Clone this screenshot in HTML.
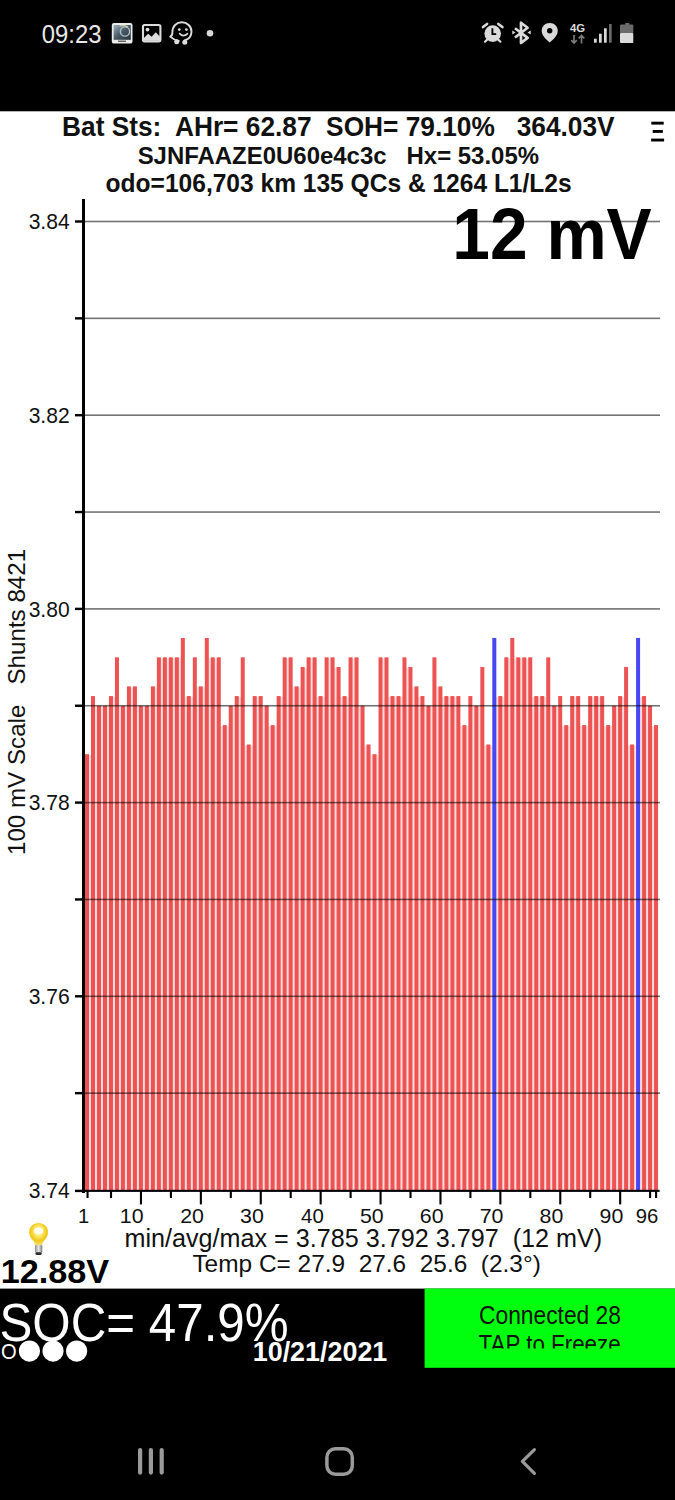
<!DOCTYPE html>
<html><head><meta charset="utf-8"><title>Battery cell voltages</title>
<style>*{margin:0;padding:0}
html,body{width:675px;height:1500px;overflow:hidden;background:#fff}
.pg{position:absolute;left:0;top:0;display:block}</style></head>
<body>
<svg class="pg" width="675" height="1500" viewBox="0 0 675 1500" font-family="Liberation Sans, Arial, sans-serif" xml:space="preserve">
<defs>
<radialGradient id="bg" cx="50%" cy="38%" r="60%"><stop offset="0" stop-color="#fffbe8"/><stop offset="0.3" stop-color="#fff080"/><stop offset="0.7" stop-color="#f2c81a"/><stop offset="1" stop-color="#f6e070"/></radialGradient><linearGradient id="bs" x1="0" x2="1"><stop offset="0" stop-color="#8a8a8a"/><stop offset="0.5" stop-color="#e8e8e8"/><stop offset="1" stop-color="#7a7a7a"/></linearGradient><linearGradient id="th" x1="0" y1="0" x2="1" y2="1"><stop offset="0" stop-color="#9fb0bc"/><stop offset="0.5" stop-color="#4a5866"/><stop offset="1" stop-color="#26303a"/></linearGradient>
<clipPath id="tapclip"><rect x="424" y="1288" width="251" height="60.6"/></clipPath>
</defs>
<rect x="0" y="0" width="675" height="111.3" fill="#000"/>
<text x="41.78" y="42.60" font-size="25.8" fill="#e8e8e8" textLength="59.64" lengthAdjust="spacingAndGlyphs" xml:space="preserve" style="white-space:pre">09:23</text>

 <rect x="111.8" y="22.9" width="20.7" height="20.7" rx="2.2" fill="#e9ece8"/>
 <rect x="113.6" y="25" width="17.2" height="14.8" fill="url(#th)"/>
 <circle cx="125" cy="31.5" r="4.6" fill="none" stroke="#a9c2c8" stroke-width="1.4"/>
 <path d="M119.5 26 Q124 25 128 27" fill="none" stroke="#c8dca0" stroke-width="1.2"/>
 <rect x="118" y="40.6" width="8" height="1.3" fill="#555"/>
 <rect x="143" y="25" width="17.4" height="16.4" rx="1.6" fill="none" stroke="#dcdcdc" stroke-width="2.1"/>
 <circle cx="147.5" cy="29.6" r="1.9" fill="#dcdcdc"/>
 <path d="M143.4 40.8 L143.4 38.5 L148.2 33.8 L151.6 36.8 L155.8 32.2 L160 36.8 L160 40.8 Z" fill="#dcdcdc"/>
 <path d="M170.2 36.6 C172 36 172.5 34.5 172.4 32 C172.4 26.2 176.5 22.3 181.8 22.3 C187.2 22.3 191.5 26.4 191.5 31.6 C191.5 36.2 188.4 39.4 184.6 40.4 M178.8 40.9 C175.8 40.5 173.2 39.3 170.2 36.6" fill="none" stroke="#dcdcdc" stroke-width="1.9" stroke-linecap="round"/>
 <circle cx="176.7" cy="41.8" r="2.5" fill="#dcdcdc"/>
 <circle cx="184.8" cy="42.2" r="2.5" fill="#dcdcdc"/>
 <circle cx="179.3" cy="29.6" r="1.35" fill="#dcdcdc"/>
 <circle cx="186.4" cy="29.6" r="1.35" fill="#dcdcdc"/>
 <path d="M179.6 33.6 Q183.5 37.6 187.5 33.6" fill="none" stroke="#dcdcdc" stroke-width="1.6" stroke-linecap="round"/>
 <circle cx="210" cy="33.2" r="3.3" fill="#d8d8d8"/>
 <circle cx="492.7" cy="33.6" r="8.3" fill="#dadada"/>
 <path d="M483 27.1 L487.1 23.9 M498.3 23.9 L502.4 27.1" stroke="#dadada" stroke-width="2.6" stroke-linecap="round"/>
 <path d="M487.4 39.4 L485 41.7 M498 39.4 L500.4 41.7" stroke="#dadada" stroke-width="2.2" stroke-linecap="round"/>
 <path d="M492.4 28.3 V34.1 H496.2" fill="none" stroke="#000" stroke-width="1.9"/>
 <path d="M515 28.2 L527.6 37.9 L521 43 L521 22.7 L527.6 27.8 L515 37.5" fill="none" stroke="#dadada" stroke-width="2.7" stroke-linejoin="round"/>
 <path d="M512.3 30.5 L515.5 32.5 L512.3 34.5 Z M530.7 30.5 L527.5 32.5 L530.7 34.5 Z" fill="#dadada"/>
 <path d="M549.7 23.1 C545 23.1 541.7 26.5 541.7 31 C541.7 35.5 546 39.5 549.7 42.4 C553.4 39.5 557.7 35.5 557.7 31 C557.7 26.5 554.4 23.1 549.7 23.1 Z" fill="#dadada"/>
 <circle cx="549.7" cy="30.8" r="2.7" fill="#000"/>
 <text x="570" y="32.4" font-weight="bold" font-size="11.3" fill="#dadada">4G</text>
 <path d="M574 35 V43 M571.2 40.2 L574 43 L576.8 40.2" fill="none" stroke="#7a7a7a" stroke-width="1.7"/>
 <path d="M581.5 43.5 V35.5 M578.7 38.3 L581.5 35.5 L584.3 38.3" fill="none" stroke="#7a7a7a" stroke-width="1.7"/>
 <rect x="594" y="38.7" width="2.7" height="4" fill="#dadada"/>
 <rect x="599" y="33.7" width="2.7" height="9" fill="#dadada"/>
 <rect x="604" y="28.3" width="2.7" height="14.4" fill="#dadada"/>
 <rect x="609" y="24" width="2.7" height="18.7" fill="#6a6a6a"/>
 <rect x="625.3" y="23" width="4" height="2" fill="#6a6a6a"/>
 <rect x="620" y="24.6" width="13.3" height="8.6" rx="1" fill="#6a6a6a"/>
 <rect x="620" y="33" width="13.3" height="10" rx="1" fill="#dadada"/>

<text x="62.05" y="136.00" font-size="26.9" font-weight="bold" fill="#111" textLength="552.56" lengthAdjust="spacingAndGlyphs" xml:space="preserve" style="white-space:pre">Bat Sts:  AHr= 62.87  SOH= 79.10%   364.03V</text>
<text x="137.63" y="163.60" font-size="24.7" font-weight="bold" fill="#111" textLength="401.41" lengthAdjust="spacingAndGlyphs" xml:space="preserve" style="white-space:pre">SJNFAAZE0U60e4c3c   Hx= 53.05%</text>
<text x="105.62" y="191.50" font-size="25.0" font-weight="bold" fill="#111" textLength="466.05" lengthAdjust="spacingAndGlyphs" xml:space="preserve" style="white-space:pre">odo=106,703 km 135 QCs &amp; 1264 L1/L2s</text>
<g fill="#000"><rect x="651.3" y="121.7" width="12.4" height="2.9"/><rect x="652.7" y="130" width="10.1" height="2.9"/><rect x="651.1" y="138.6" width="13" height="2.9"/></g>
<rect x="88.70" y="755.17" width="2.59" height="434.83" fill="#ffdcdc"/>
<rect x="94.69" y="706.75" width="2.59" height="483.25" fill="#ffdcdc"/>
<rect x="100.68" y="706.75" width="2.59" height="483.25" fill="#ffdcdc"/>
<rect x="106.67" y="706.75" width="2.59" height="483.25" fill="#ffdcdc"/>
<rect x="112.66" y="697.06" width="2.59" height="492.94" fill="#ffdcdc"/>
<rect x="118.65" y="706.75" width="2.59" height="483.25" fill="#ffdcdc"/>
<rect x="124.64" y="706.75" width="2.59" height="483.25" fill="#ffdcdc"/>
<rect x="130.63" y="687.38" width="2.59" height="502.62" fill="#ffdcdc"/>
<rect x="136.62" y="706.75" width="2.59" height="483.25" fill="#ffdcdc"/>
<rect x="142.61" y="706.75" width="2.59" height="483.25" fill="#ffdcdc"/>
<rect x="148.60" y="706.75" width="2.59" height="483.25" fill="#ffdcdc"/>
<rect x="154.59" y="687.38" width="2.59" height="502.62" fill="#ffdcdc"/>
<rect x="160.58" y="658.32" width="2.59" height="531.68" fill="#ffdcdc"/>
<rect x="166.57" y="658.32" width="2.59" height="531.68" fill="#ffdcdc"/>
<rect x="172.56" y="658.32" width="2.59" height="531.68" fill="#ffdcdc"/>
<rect x="178.55" y="658.32" width="2.59" height="531.68" fill="#ffdcdc"/>
<rect x="184.54" y="697.06" width="2.59" height="492.94" fill="#ffdcdc"/>
<rect x="190.53" y="697.06" width="2.59" height="492.94" fill="#ffdcdc"/>
<rect x="196.52" y="687.38" width="2.59" height="502.62" fill="#ffdcdc"/>
<rect x="202.51" y="687.38" width="2.59" height="502.62" fill="#ffdcdc"/>
<rect x="208.50" y="658.32" width="2.59" height="531.68" fill="#ffdcdc"/>
<rect x="214.49" y="658.32" width="2.59" height="531.68" fill="#ffdcdc"/>
<rect x="220.48" y="726.12" width="2.59" height="463.88" fill="#ffdcdc"/>
<rect x="226.47" y="726.12" width="2.59" height="463.88" fill="#ffdcdc"/>
<rect x="232.46" y="706.75" width="2.59" height="483.25" fill="#ffdcdc"/>
<rect x="238.45" y="697.06" width="2.59" height="492.94" fill="#ffdcdc"/>
<rect x="244.44" y="745.49" width="2.59" height="444.51" fill="#ffdcdc"/>
<rect x="250.43" y="745.49" width="2.59" height="444.51" fill="#ffdcdc"/>
<rect x="256.42" y="697.06" width="2.59" height="492.94" fill="#ffdcdc"/>
<rect x="262.41" y="706.75" width="2.59" height="483.25" fill="#ffdcdc"/>
<rect x="268.40" y="726.12" width="2.59" height="463.88" fill="#ffdcdc"/>
<rect x="274.39" y="726.12" width="2.59" height="463.88" fill="#ffdcdc"/>
<rect x="280.38" y="697.06" width="2.59" height="492.94" fill="#ffdcdc"/>
<rect x="286.37" y="658.32" width="2.59" height="531.68" fill="#ffdcdc"/>
<rect x="292.36" y="687.38" width="2.59" height="502.62" fill="#ffdcdc"/>
<rect x="298.35" y="687.38" width="2.59" height="502.62" fill="#ffdcdc"/>
<rect x="304.34" y="668.01" width="2.59" height="521.99" fill="#ffdcdc"/>
<rect x="310.33" y="658.32" width="2.59" height="531.68" fill="#ffdcdc"/>
<rect x="316.32" y="697.06" width="2.59" height="492.94" fill="#ffdcdc"/>
<rect x="322.31" y="697.06" width="2.59" height="492.94" fill="#ffdcdc"/>
<rect x="328.30" y="658.32" width="2.59" height="531.68" fill="#ffdcdc"/>
<rect x="334.29" y="668.01" width="2.59" height="521.99" fill="#ffdcdc"/>
<rect x="340.28" y="697.06" width="2.59" height="492.94" fill="#ffdcdc"/>
<rect x="346.27" y="697.06" width="2.59" height="492.94" fill="#ffdcdc"/>
<rect x="352.26" y="658.32" width="2.59" height="531.68" fill="#ffdcdc"/>
<rect x="358.25" y="706.75" width="2.59" height="483.25" fill="#ffdcdc"/>
<rect x="364.24" y="745.49" width="2.59" height="444.51" fill="#ffdcdc"/>
<rect x="370.23" y="755.17" width="2.59" height="434.83" fill="#ffdcdc"/>
<rect x="376.22" y="755.17" width="2.59" height="434.83" fill="#ffdcdc"/>
<rect x="382.21" y="658.32" width="2.59" height="531.68" fill="#ffdcdc"/>
<rect x="388.20" y="697.06" width="2.59" height="492.94" fill="#ffdcdc"/>
<rect x="394.19" y="697.06" width="2.59" height="492.94" fill="#ffdcdc"/>
<rect x="400.18" y="697.06" width="2.59" height="492.94" fill="#ffdcdc"/>
<rect x="406.17" y="668.01" width="2.59" height="521.99" fill="#ffdcdc"/>
<rect x="412.16" y="687.38" width="2.59" height="502.62" fill="#ffdcdc"/>
<rect x="418.15" y="697.06" width="2.59" height="492.94" fill="#ffdcdc"/>
<rect x="424.14" y="706.75" width="2.59" height="483.25" fill="#ffdcdc"/>
<rect x="430.13" y="706.75" width="2.59" height="483.25" fill="#ffdcdc"/>
<rect x="436.12" y="687.38" width="2.59" height="502.62" fill="#ffdcdc"/>
<rect x="442.11" y="697.06" width="2.59" height="492.94" fill="#ffdcdc"/>
<rect x="448.10" y="697.06" width="2.59" height="492.94" fill="#ffdcdc"/>
<rect x="454.09" y="697.06" width="2.59" height="492.94" fill="#ffdcdc"/>
<rect x="460.08" y="726.12" width="2.59" height="463.88" fill="#ffdcdc"/>
<rect x="466.07" y="726.12" width="2.59" height="463.88" fill="#ffdcdc"/>
<rect x="472.06" y="706.75" width="2.59" height="483.25" fill="#ffdcdc"/>
<rect x="478.05" y="706.75" width="2.59" height="483.25" fill="#ffdcdc"/>
<rect x="484.04" y="745.49" width="2.59" height="444.51" fill="#ffdcdc"/>
<rect x="490.03" y="745.49" width="2.59" height="444.51" fill="#ffdcdc"/>
<rect x="496.02" y="697.06" width="2.59" height="492.94" fill="#ffdcdc"/>
<rect x="502.01" y="697.06" width="2.59" height="492.94" fill="#ffdcdc"/>
<rect x="508.00" y="658.32" width="2.59" height="531.68" fill="#ffdcdc"/>
<rect x="513.99" y="658.32" width="2.59" height="531.68" fill="#ffdcdc"/>
<rect x="519.98" y="658.32" width="2.59" height="531.68" fill="#ffdcdc"/>
<rect x="525.97" y="658.32" width="2.59" height="531.68" fill="#ffdcdc"/>
<rect x="531.96" y="697.06" width="2.59" height="492.94" fill="#ffdcdc"/>
<rect x="537.95" y="697.06" width="2.59" height="492.94" fill="#ffdcdc"/>
<rect x="543.94" y="697.06" width="2.59" height="492.94" fill="#ffdcdc"/>
<rect x="549.93" y="706.75" width="2.59" height="483.25" fill="#ffdcdc"/>
<rect x="555.92" y="706.75" width="2.59" height="483.25" fill="#ffdcdc"/>
<rect x="561.91" y="726.12" width="2.59" height="463.88" fill="#ffdcdc"/>
<rect x="567.90" y="726.12" width="2.59" height="463.88" fill="#ffdcdc"/>
<rect x="573.89" y="697.06" width="2.59" height="492.94" fill="#ffdcdc"/>
<rect x="579.88" y="726.12" width="2.59" height="463.88" fill="#ffdcdc"/>
<rect x="585.87" y="726.12" width="2.59" height="463.88" fill="#ffdcdc"/>
<rect x="591.86" y="697.06" width="2.59" height="492.94" fill="#ffdcdc"/>
<rect x="597.85" y="697.06" width="2.59" height="492.94" fill="#ffdcdc"/>
<rect x="603.84" y="726.12" width="2.59" height="463.88" fill="#ffdcdc"/>
<rect x="609.83" y="726.12" width="2.59" height="463.88" fill="#ffdcdc"/>
<rect x="615.82" y="706.75" width="2.59" height="483.25" fill="#ffdcdc"/>
<rect x="621.81" y="697.06" width="2.59" height="492.94" fill="#ffdcdc"/>
<rect x="627.80" y="745.49" width="2.59" height="444.51" fill="#ffdcdc"/>
<rect x="633.79" y="745.49" width="2.59" height="444.51" fill="#ffdcdc"/>
<rect x="639.78" y="697.06" width="2.59" height="492.94" fill="#ffdcdc"/>
<rect x="645.77" y="706.75" width="2.59" height="483.25" fill="#ffdcdc"/>
<rect x="651.76" y="726.12" width="2.59" height="463.88" fill="#ffdcdc"/>
<rect x="85.00" y="754.17" width="4.0" height="435.83" fill="#EC5352"/>
<rect x="90.99" y="696.06" width="4.0" height="493.94" fill="#EC5352"/>
<rect x="96.98" y="705.75" width="4.0" height="484.25" fill="#EC5352"/>
<rect x="102.97" y="705.75" width="4.0" height="484.25" fill="#EC5352"/>
<rect x="108.96" y="696.06" width="4.0" height="493.94" fill="#EC5352"/>
<rect x="114.95" y="657.32" width="4.0" height="532.68" fill="#EC5352"/>
<rect x="120.94" y="705.75" width="4.0" height="484.25" fill="#EC5352"/>
<rect x="126.93" y="686.38" width="4.0" height="503.62" fill="#EC5352"/>
<rect x="132.92" y="686.38" width="4.0" height="503.62" fill="#EC5352"/>
<rect x="138.91" y="705.75" width="4.0" height="484.25" fill="#EC5352"/>
<rect x="144.90" y="705.75" width="4.0" height="484.25" fill="#EC5352"/>
<rect x="150.89" y="686.38" width="4.0" height="503.62" fill="#EC5352"/>
<rect x="156.88" y="657.32" width="4.0" height="532.68" fill="#EC5352"/>
<rect x="162.87" y="657.32" width="4.0" height="532.68" fill="#EC5352"/>
<rect x="168.86" y="657.32" width="4.0" height="532.68" fill="#EC5352"/>
<rect x="174.85" y="657.32" width="4.0" height="532.68" fill="#EC5352"/>
<rect x="180.84" y="637.95" width="4.0" height="552.05" fill="#EC5352"/>
<rect x="186.83" y="696.06" width="4.0" height="493.94" fill="#EC5352"/>
<rect x="192.82" y="657.32" width="4.0" height="532.68" fill="#EC5352"/>
<rect x="198.81" y="686.38" width="4.0" height="503.62" fill="#EC5352"/>
<rect x="204.80" y="637.95" width="4.0" height="552.05" fill="#EC5352"/>
<rect x="210.79" y="657.32" width="4.0" height="532.68" fill="#EC5352"/>
<rect x="216.78" y="657.32" width="4.0" height="532.68" fill="#EC5352"/>
<rect x="222.77" y="725.12" width="4.0" height="464.88" fill="#EC5352"/>
<rect x="228.76" y="705.75" width="4.0" height="484.25" fill="#EC5352"/>
<rect x="234.75" y="696.06" width="4.0" height="493.94" fill="#EC5352"/>
<rect x="240.74" y="657.32" width="4.0" height="532.68" fill="#EC5352"/>
<rect x="246.73" y="744.49" width="4.0" height="445.51" fill="#EC5352"/>
<rect x="252.72" y="696.06" width="4.0" height="493.94" fill="#EC5352"/>
<rect x="258.71" y="696.06" width="4.0" height="493.94" fill="#EC5352"/>
<rect x="264.70" y="705.75" width="4.0" height="484.25" fill="#EC5352"/>
<rect x="270.69" y="725.12" width="4.0" height="464.88" fill="#EC5352"/>
<rect x="276.68" y="696.06" width="4.0" height="493.94" fill="#EC5352"/>
<rect x="282.67" y="657.32" width="4.0" height="532.68" fill="#EC5352"/>
<rect x="288.66" y="657.32" width="4.0" height="532.68" fill="#EC5352"/>
<rect x="294.65" y="686.38" width="4.0" height="503.62" fill="#EC5352"/>
<rect x="300.64" y="667.01" width="4.0" height="522.99" fill="#EC5352"/>
<rect x="306.63" y="657.32" width="4.0" height="532.68" fill="#EC5352"/>
<rect x="312.62" y="657.32" width="4.0" height="532.68" fill="#EC5352"/>
<rect x="318.61" y="696.06" width="4.0" height="493.94" fill="#EC5352"/>
<rect x="324.60" y="657.32" width="4.0" height="532.68" fill="#EC5352"/>
<rect x="330.59" y="657.32" width="4.0" height="532.68" fill="#EC5352"/>
<rect x="336.58" y="667.01" width="4.0" height="522.99" fill="#EC5352"/>
<rect x="342.57" y="696.06" width="4.0" height="493.94" fill="#EC5352"/>
<rect x="348.56" y="657.32" width="4.0" height="532.68" fill="#EC5352"/>
<rect x="354.55" y="657.32" width="4.0" height="532.68" fill="#EC5352"/>
<rect x="360.54" y="705.75" width="4.0" height="484.25" fill="#EC5352"/>
<rect x="366.53" y="744.49" width="4.0" height="445.51" fill="#EC5352"/>
<rect x="372.52" y="754.17" width="4.0" height="435.83" fill="#EC5352"/>
<rect x="378.51" y="657.32" width="4.0" height="532.68" fill="#EC5352"/>
<rect x="384.50" y="657.32" width="4.0" height="532.68" fill="#EC5352"/>
<rect x="390.49" y="696.06" width="4.0" height="493.94" fill="#EC5352"/>
<rect x="396.48" y="696.06" width="4.0" height="493.94" fill="#EC5352"/>
<rect x="402.47" y="657.32" width="4.0" height="532.68" fill="#EC5352"/>
<rect x="408.46" y="667.01" width="4.0" height="522.99" fill="#EC5352"/>
<rect x="414.45" y="686.38" width="4.0" height="503.62" fill="#EC5352"/>
<rect x="420.44" y="696.06" width="4.0" height="493.94" fill="#EC5352"/>
<rect x="426.43" y="705.75" width="4.0" height="484.25" fill="#EC5352"/>
<rect x="432.42" y="657.32" width="4.0" height="532.68" fill="#EC5352"/>
<rect x="438.41" y="686.38" width="4.0" height="503.62" fill="#EC5352"/>
<rect x="444.40" y="696.06" width="4.0" height="493.94" fill="#EC5352"/>
<rect x="450.39" y="696.06" width="4.0" height="493.94" fill="#EC5352"/>
<rect x="456.38" y="696.06" width="4.0" height="493.94" fill="#EC5352"/>
<rect x="462.37" y="725.12" width="4.0" height="464.88" fill="#EC5352"/>
<rect x="468.36" y="696.06" width="4.0" height="493.94" fill="#EC5352"/>
<rect x="474.35" y="705.75" width="4.0" height="484.25" fill="#EC5352"/>
<rect x="480.34" y="667.01" width="4.0" height="522.99" fill="#EC5352"/>
<rect x="486.33" y="744.49" width="4.0" height="445.51" fill="#EC5352"/>
<rect x="492.32" y="637.95" width="4.0" height="552.05" fill="#4848F2"/>
<rect x="498.31" y="696.06" width="4.0" height="493.94" fill="#EC5352"/>
<rect x="504.30" y="657.32" width="4.0" height="532.68" fill="#EC5352"/>
<rect x="510.29" y="637.95" width="4.0" height="552.05" fill="#EC5352"/>
<rect x="516.28" y="657.32" width="4.0" height="532.68" fill="#EC5352"/>
<rect x="522.27" y="657.32" width="4.0" height="532.68" fill="#EC5352"/>
<rect x="528.26" y="657.32" width="4.0" height="532.68" fill="#EC5352"/>
<rect x="534.25" y="696.06" width="4.0" height="493.94" fill="#EC5352"/>
<rect x="540.24" y="696.06" width="4.0" height="493.94" fill="#EC5352"/>
<rect x="546.23" y="657.32" width="4.0" height="532.68" fill="#EC5352"/>
<rect x="552.22" y="705.75" width="4.0" height="484.25" fill="#EC5352"/>
<rect x="558.21" y="696.06" width="4.0" height="493.94" fill="#EC5352"/>
<rect x="564.20" y="725.12" width="4.0" height="464.88" fill="#EC5352"/>
<rect x="570.19" y="696.06" width="4.0" height="493.94" fill="#EC5352"/>
<rect x="576.18" y="696.06" width="4.0" height="493.94" fill="#EC5352"/>
<rect x="582.17" y="725.12" width="4.0" height="464.88" fill="#EC5352"/>
<rect x="588.16" y="696.06" width="4.0" height="493.94" fill="#EC5352"/>
<rect x="594.15" y="696.06" width="4.0" height="493.94" fill="#EC5352"/>
<rect x="600.14" y="696.06" width="4.0" height="493.94" fill="#EC5352"/>
<rect x="606.13" y="725.12" width="4.0" height="464.88" fill="#EC5352"/>
<rect x="612.12" y="705.75" width="4.0" height="484.25" fill="#EC5352"/>
<rect x="618.11" y="696.06" width="4.0" height="493.94" fill="#EC5352"/>
<rect x="624.10" y="667.01" width="4.0" height="522.99" fill="#EC5352"/>
<rect x="630.09" y="744.49" width="4.0" height="445.51" fill="#EC5352"/>
<rect x="636.08" y="637.95" width="4.0" height="552.05" fill="#4848F2"/>
<rect x="642.07" y="696.06" width="4.0" height="493.94" fill="#EC5352"/>
<rect x="648.06" y="705.75" width="4.0" height="484.25" fill="#EC5352"/>
<rect x="654.05" y="725.12" width="4.0" height="464.88" fill="#EC5352"/>
<rect x="85" y="220.70" width="575" height="1.6" fill="#000" fill-opacity="0.55"/>
<rect x="75" y="220.30" width="8" height="2.4" fill="#000"/>
<rect x="85" y="317.55" width="575" height="1.6" fill="#000" fill-opacity="0.55"/>
<rect x="75" y="317.15" width="8" height="2.4" fill="#000"/>
<rect x="85" y="414.40" width="575" height="1.6" fill="#000" fill-opacity="0.55"/>
<rect x="75" y="414.00" width="8" height="2.4" fill="#000"/>
<rect x="85" y="511.25" width="575" height="1.6" fill="#000" fill-opacity="0.55"/>
<rect x="75" y="510.85" width="8" height="2.4" fill="#000"/>
<rect x="85" y="608.10" width="575" height="1.6" fill="#000" fill-opacity="0.55"/>
<rect x="75" y="607.70" width="8" height="2.4" fill="#000"/>
<rect x="85" y="704.95" width="575" height="1.6" fill="#000" fill-opacity="0.55"/>
<rect x="75" y="704.55" width="8" height="2.4" fill="#000"/>
<rect x="85" y="801.80" width="575" height="1.6" fill="#000" fill-opacity="0.55"/>
<rect x="75" y="801.40" width="8" height="2.4" fill="#000"/>
<rect x="85" y="898.65" width="575" height="1.6" fill="#000" fill-opacity="0.55"/>
<rect x="75" y="898.25" width="8" height="2.4" fill="#000"/>
<rect x="85" y="995.50" width="575" height="1.6" fill="#000" fill-opacity="0.55"/>
<rect x="75" y="995.10" width="8" height="2.4" fill="#000"/>
<rect x="85" y="1092.35" width="575" height="1.6" fill="#000" fill-opacity="0.55"/>
<rect x="75" y="1091.95" width="8" height="2.4" fill="#000"/>
<rect x="75" y="1189.70" width="8" height="2.4" fill="#000"/>
<rect x="82" y="199" width="3" height="994" fill="#000"/>
<rect x="82" y="1189.8" width="577.6" height="2.1" fill="#000"/>
<rect x="86.50" y="1191" width="2.1" height="7.0" fill="#000"/>
<rect x="109.96" y="1191" width="2.1" height="7.0" fill="#000"/>
<rect x="139.91" y="1191" width="2.1" height="13.4" fill="#000"/>
<rect x="169.86" y="1191" width="2.1" height="7.0" fill="#000"/>
<rect x="199.81" y="1191" width="2.1" height="13.4" fill="#000"/>
<rect x="229.76" y="1191" width="2.1" height="7.0" fill="#000"/>
<rect x="259.71" y="1191" width="2.1" height="13.4" fill="#000"/>
<rect x="289.66" y="1191" width="2.1" height="7.0" fill="#000"/>
<rect x="319.61" y="1191" width="2.1" height="13.4" fill="#000"/>
<rect x="349.56" y="1191" width="2.1" height="7.0" fill="#000"/>
<rect x="379.51" y="1191" width="2.1" height="13.4" fill="#000"/>
<rect x="409.46" y="1191" width="2.1" height="7.0" fill="#000"/>
<rect x="439.41" y="1191" width="2.1" height="13.4" fill="#000"/>
<rect x="469.36" y="1191" width="2.1" height="7.0" fill="#000"/>
<rect x="499.31" y="1191" width="2.1" height="13.4" fill="#000"/>
<rect x="529.26" y="1191" width="2.1" height="7.0" fill="#000"/>
<rect x="559.21" y="1191" width="2.1" height="13.4" fill="#000"/>
<rect x="589.16" y="1191" width="2.1" height="7.0" fill="#000"/>
<rect x="619.11" y="1191" width="2.1" height="13.4" fill="#000"/>
<rect x="649.06" y="1191" width="2.1" height="7.0" fill="#000"/>
<rect x="655.05" y="1191" width="2.1" height="7.0" fill="#000"/>
<text x="28.64" y="229.10" font-size="22" fill="#111" textLength="41.05" lengthAdjust="spacingAndGlyphs" xml:space="preserve" style="white-space:pre">3.84</text>
<text x="28.64" y="422.80" font-size="22" fill="#111" textLength="41.05" lengthAdjust="spacingAndGlyphs" xml:space="preserve" style="white-space:pre">3.82</text>
<text x="28.64" y="616.50" font-size="22" fill="#111" textLength="41.05" lengthAdjust="spacingAndGlyphs" xml:space="preserve" style="white-space:pre">3.80</text>
<text x="28.64" y="810.20" font-size="22" fill="#111" textLength="41.05" lengthAdjust="spacingAndGlyphs" xml:space="preserve" style="white-space:pre">3.78</text>
<text x="28.64" y="1003.90" font-size="22" fill="#111" textLength="41.05" lengthAdjust="spacingAndGlyphs" xml:space="preserve" style="white-space:pre">3.76</text>
<text x="28.64" y="1197.60" font-size="22" fill="#111" textLength="41.05" lengthAdjust="spacingAndGlyphs" xml:space="preserve" style="white-space:pre">3.74</text>
<text x="78.05" y="1222.60" font-size="20.2" fill="#111" textLength="11.23" lengthAdjust="spacingAndGlyphs" xml:space="preserve" style="white-space:pre">1</text>
<text x="119.82" y="1222.60" font-size="20.2" fill="#111" textLength="23.75" lengthAdjust="spacingAndGlyphs" xml:space="preserve" style="white-space:pre">10</text>
<text x="180.24" y="1222.60" font-size="20.2" fill="#111" textLength="23.75" lengthAdjust="spacingAndGlyphs" xml:space="preserve" style="white-space:pre">20</text>
<text x="240.14" y="1222.60" font-size="20.2" fill="#111" textLength="23.75" lengthAdjust="spacingAndGlyphs" xml:space="preserve" style="white-space:pre">30</text>
<text x="301.10" y="1222.60" font-size="20.2" fill="#111" textLength="22.67" lengthAdjust="spacingAndGlyphs" xml:space="preserve" style="white-space:pre">40</text>
<text x="359.94" y="1222.60" font-size="20.2" fill="#111" textLength="23.75" lengthAdjust="spacingAndGlyphs" xml:space="preserve" style="white-space:pre">50</text>
<text x="419.84" y="1222.60" font-size="20.2" fill="#111" textLength="23.75" lengthAdjust="spacingAndGlyphs" xml:space="preserve" style="white-space:pre">60</text>
<text x="479.74" y="1222.60" font-size="20.2" fill="#111" textLength="23.75" lengthAdjust="spacingAndGlyphs" xml:space="preserve" style="white-space:pre">70</text>
<text x="539.64" y="1222.60" font-size="20.2" fill="#111" textLength="23.75" lengthAdjust="spacingAndGlyphs" xml:space="preserve" style="white-space:pre">80</text>
<text x="599.54" y="1222.60" font-size="20.2" fill="#111" textLength="23.75" lengthAdjust="spacingAndGlyphs" xml:space="preserve" style="white-space:pre">90</text>
<text x="635.70" y="1222.60" font-size="20.2" fill="#111" textLength="22.58" lengthAdjust="spacingAndGlyphs" xml:space="preserve" style="white-space:pre">96</text>
<text x="452.35" y="258.70" font-size="72.8" font-weight="bold" fill="#000" textLength="199.30" lengthAdjust="spacingAndGlyphs" xml:space="preserve" style="white-space:pre">12 mV</text>
<g transform="rotate(-90)"><text x="-855.03" y="25.20" font-size="23.8" fill="#111" textLength="306.16" lengthAdjust="spacingAndGlyphs" xml:space="preserve" style="white-space:pre">100 mV Scale   Shunts 8421</text></g>
<g>
<path d="M38.6 1223 C33.2 1223 29 1227 29 1232.3 C29 1236 31 1238.5 33 1240.8 C34.2 1242.3 34.8 1243.6 34.9 1245.2 L42.3 1245.2 C42.4 1243.6 43 1242.3 44.2 1240.8 C46.2 1238.5 48.2 1236 48.2 1232.3 C48.2 1227 44 1223 38.6 1223 Z" fill="url(#bg)"/>
<ellipse cx="38.6" cy="1230.8" rx="4.6" ry="3.2" fill="#fffef6"/>
<rect x="34.9" y="1245" width="7.4" height="7.6" rx="1" fill="url(#bs)"/>
<rect x="35.4" y="1252.3" width="6.4" height="2.6" rx="1.3" fill="#2a2a2a"/>
</g>
<text x="0.69" y="1283.40" font-size="34" font-weight="bold" fill="#000" textLength="108.48" lengthAdjust="spacingAndGlyphs" xml:space="preserve" style="white-space:pre">12.88V</text>
<text x="124.46" y="1247.00" font-size="26" fill="#111" textLength="477.75" lengthAdjust="spacingAndGlyphs" xml:space="preserve" style="white-space:pre">min/avg/max = 3.785 3.792 3.797  (12 mV)</text>
<text x="192.40" y="1271.80" font-size="24.3" fill="#111" textLength="348.42" lengthAdjust="spacingAndGlyphs" xml:space="preserve" style="white-space:pre">Temp C= 27.9  27.6  25.6  (2.3°)</text>
<rect x="0" y="1288.6" width="675" height="211.4" fill="#000"/>
<rect x="424.6" y="1288.5" width="250.4" height="79.3" fill="#00ff0e"/>
<text x="-0.57" y="1341.30" font-size="53.4" fill="#fff" textLength="289.22" lengthAdjust="spacingAndGlyphs" xml:space="preserve" style="white-space:pre">SOC= 47.9%</text>
<text x="0.88" y="1359.00" font-size="21.9" fill="#fff" textLength="15.67" lengthAdjust="spacingAndGlyphs" xml:space="preserve" style="white-space:pre">O</text>
<circle cx="29.45" cy="1351.1" r="10.6" fill="#fff"/><circle cx="53.05" cy="1351.1" r="10.6" fill="#fff"/><circle cx="76.65" cy="1351.1" r="10.6" fill="#fff"/>
<text x="252.74" y="1361.00" font-size="27.5" font-weight="bold" fill="#fff" textLength="134.58" lengthAdjust="spacingAndGlyphs" xml:space="preserve" style="white-space:pre">10/21/2021</text>
<text x="479.09" y="1324.10" font-size="25.1" fill="#111" textLength="141.86" lengthAdjust="spacingAndGlyphs" xml:space="preserve" style="white-space:pre">Connected 28</text>
<text x="478.61" y="1353.20" font-size="25.1" fill="#111" textLength="142.00" lengthAdjust="spacingAndGlyphs" xml:space="preserve" style="white-space:pre" clip-path="url(#tapclip)">TAP to Freeze</text>
<g fill="#9a9a9a">
 <rect x="138" y="1448" width="4.2" height="26.7" rx="2.1"/>
 <rect x="148.8" y="1448" width="4.2" height="26.7" rx="2.1"/>
 <rect x="159.6" y="1448" width="4.2" height="26.7" rx="2.1"/>
 </g>
 <rect x="326.9" y="1448.8" width="25.4" height="25.4" rx="8.5" fill="none" stroke="#9a9a9a" stroke-width="3.5"/>
 <path d="M534.4 1449.6 L522.4 1461.4 L534.4 1473.3" fill="none" stroke="#9a9a9a" stroke-width="3.2" stroke-linecap="round" stroke-linejoin="round"/>
</svg>
</body></html>
